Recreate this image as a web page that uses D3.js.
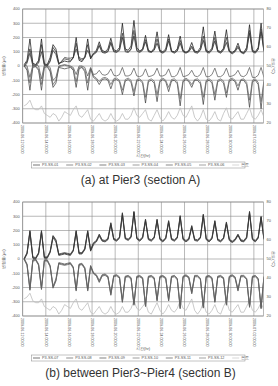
<!DOCTYPE html>
<meta charset="utf-8">
<style>
body { margin: 0; background: #fff; }
text { font-family: "Liberation Sans", Arial, sans-serif; }
</style>
<body>
<script src="https://d3js.org/d3.v7.min.js"></script>
<script>
var width = 278, height = 386;

// sample times in hours (every 6 h, starting 03:00 of the first day)
var hours = d3.range(84).map(function(i) { return 3 + 6 * i; });
var gridHours = [0, 48, 96, 144, 192, 240, 288, 336, 384, 432, 480];
var dateLabels = ["2009-06-12 00:00", "2009-06-14 00:00", "2009-06-16 00:00", "2009-06-18 00:00",
                  "2009-06-20 00:00", "2009-06-22 00:00", "2009-06-24 00:00", "2009-06-26 00:00",
                  "2009-06-28 00:00", "2009-06-30 00:00", "2009-07-02 00:00"];
var strainTicks = [-400, -300, -200, -100, 0, 100, 200, 300, 400];
var tempTicks = [20, 30, 40, 50, 60, 70, 80];

var tempC = [29,30,32,28, 27,27,29,25, 24,23,25,24, 21,23,26,25, 24,27,29,24, 23,25,27,22, 21,23,25,22,
  21,22,25,22, 21,22,25,22, 22,24,28,24, 23,25,27,22, 21,24,27,23, 21,23,26,23, 22,24,28,24,
  23,26,29,23, 21,23,27,22, 21,23,26,22, 21,25,28,23, 22,24,26,22, 22,25,28,23, 22,24,27,23];

// section A
var ss01 = [10,40,190,20, 10,40,190,15, 10,60,150,120, 20,25,35,30, 30,60,200,40, 30,60,190,50,
  90,110,170,110, 100,120,195,115, 105,130,300,120, 110,140,320,130, 105,120,215,110, 100,125,240,110,
  100,120,220,105, 100,120,210,110, 95,110,165,105, 100,130,275,110, 100,125,245,110, 100,125,255,105,
  95,110,160,100, 95,130,290,110, 100,130,300,110];
var ss02 = [0,-30,-170,-10, -5,-30,-170,-10, -5,-40,-150,-120, -10,-15,-20,-15, -10,-30,-150,-20, -10,-40,-170,-20,
  -80,-95,-130,-95, -90,-100,-160,-100, -95,-110,-200,-105, -95,-115,-210,-105, -100,-120,-260,-110, -100,-120,-250,-110,
  -95,-110,-180,-105, -100,-125,-280,-110, -95,-110,-150,-100, -100,-125,-270,-110, -100,-120,-240,-110, -100,-120,-220,-105,
  -95,-110,-170,-100, -100,-130,-290,-110, -100,-130,-300,-110];
var ss03 = [0,30,120,10, 5,30,150,10, 5,40,130,100, 15,30,50,45, 40,55,160,50, 40,60,150,55,
  80,95,140,95, 90,100,160,100, 95,110,200,100, 95,115,210,105, 95,110,170,100, 95,110,160,100,
  90,105,175,100, 90,105,160,100, 90,100,130,95, 90,110,180,100, 90,110,175,100, 90,110,165,100,
  85,100,130,95, 85,110,230,100, 90,115,240,100];
var ss04 = [10,0,-80,5, 10,0,-90,5, 5,-10,-100,-80, 0,5,10,5, 0,-10,-60,0, 0,-10,-70,-10,
  -60,-55,-30,-60, -65,-55,-20,-65, -70,-60,-10,-70, -70,-60,-15,-70, -75,-65,-20,-75, -70,-60,-15,-70,
  -70,-60,-20,-75, -75,-60,-10,-75, -70,-60,-30,-70, -75,-60,-10,-75, -75,-60,-15,-75, -75,-60,-15,-75,
  -70,-60,-30,-70, -75,-60,-10,-80, -80,-65,-10,-80];
var ss05 = [-5,20,90,0, 0,20,100,5, 0,30,110,80, 10,35,60,55, 55,60,120,60, 50,60,110,60,
  85,100,150,100, 95,105,170,105, 100,115,230,110, 100,120,250,115, 100,115,185,105, 100,115,190,105,
  95,110,190,105, 95,110,180,105, 95,105,140,100, 95,115,210,105, 95,115,200,105, 95,115,200,105,
  90,105,140,100, 90,115,250,105, 95,120,260,105];
var ss06 = [5,-20,-120,0, 0,-20,-130,0, 0,-30,-130,-100, -5,0,5,0, -5,-20,-110,-10, -5,-25,-120,-15,
  -70,-85,-110,-85, -80,-90,-130,-90, -85,-100,-170,-95, -85,-100,-180,-95, -90,-110,-220,-100, -90,-105,-200,-100,
  -85,-100,-150,-95, -90,-110,-230,-100, -85,-100,-130,-95, -90,-110,-220,-100, -90,-105,-200,-100, -90,-105,-190,-95,
  -85,-100,-140,-95, -90,-115,-240,-100, -90,-115,-250,-100];

// section B
var ss07 = [0,40,195,10, 5,40,195,10, 10,50,160,130, 30,35,40,35, 30,60,195,40, 40,70,195,60,
  110,125,170,130, 125,140,250,140, 130,150,320,145, 135,155,330,145, 130,150,275,140, 130,150,275,140,
  125,145,265,140, 130,150,300,140, 125,140,230,135, 130,150,310,140, 125,145,265,135, 125,145,255,135,
  120,135,170,130, 125,150,330,140, 125,150,295,140];
var ss08 = [0,-40,-215,-10, -5,-40,-210,-10, -10,-50,-200,-150, -30,-35,-40,-35, -30,-60,-220,-40, -35,-65,-220,-50,
  -100,-115,-160,-115, -110,-125,-250,-120, -115,-130,-300,-125, -120,-135,-320,-125, -120,-135,-330,-125, -120,-135,-290,-125,
  -120,-135,-290,-125, -120,-140,-345,-125, -115,-130,-240,-120, -120,-140,-340,-125, -120,-135,-300,-125, -120,-135,-320,-125,
  -115,-130,-220,-120, -120,-140,-335,-125, -120,-140,-345,-125];
var ss09 = [-5,35,185,5, 0,35,185,5, 5,45,150,120, 25,30,35,30, 25,55,185,35, 35,65,185,55,
  100,120,160,125, 120,135,240,135, 125,145,305,140, 130,150,320,140, 125,145,265,135, 125,145,265,135,
  120,140,255,135, 125,145,290,135, 120,135,220,130, 125,145,300,135, 120,140,255,130, 120,140,245,130,
  115,130,165,125, 120,145,320,135, 120,145,285,135];
var ss10 = [5,-35,-205,-5, 0,-35,-200,-5, -5,-45,-190,-140, -25,-30,-35,-30, -25,-55,-210,-35, -30,-60,-210,-45,
  -95,-110,-150,-110, -105,-120,-240,-115, -110,-125,-290,-120, -115,-130,-310,-120, -115,-130,-320,-120, -115,-130,-280,-120,
  -115,-130,-280,-120, -115,-135,-335,-120, -110,-125,-230,-115, -115,-135,-330,-120, -115,-130,-290,-120, -115,-130,-310,-120,
  -110,-125,-210,-115, -115,-135,-325,-120, -115,-135,-335,-120];
var ss11 = [5,45,200,15, 10,45,200,15, 15,55,165,135, 35,40,45,40, 35,65,200,45, 45,75,200,65,
  115,130,175,135, 130,145,255,145, 135,155,325,150, 140,160,335,150, 135,155,280,145, 135,155,280,145,
  130,150,270,145, 135,155,305,145, 130,145,235,140, 135,155,315,145, 130,150,270,140, 130,150,260,140,
  125,140,175,135, 130,155,335,145, 130,155,300,145];
var ss12 = [-5,-45,-220,-15, -10,-45,-215,-15, -15,-55,-205,-155, -35,-40,-45,-40, -35,-65,-225,-45, -40,-70,-225,-55,
  -105,-120,-165,-120, -115,-130,-255,-125, -120,-135,-305,-130, -125,-140,-325,-130, -125,-140,-335,-130, -125,-140,-295,-130,
  -125,-140,-295,-130, -125,-145,-350,-130, -120,-135,-245,-125, -125,-145,-345,-130, -125,-140,-305,-130, -125,-140,-325,-130,
  -120,-135,-225,-125, -125,-145,-340,-130, -125,-145,-350,-130];

var namesA = ["P3-SS-01", "P3-SS-02", "P3-SS-03", "P3-SS-04", "P3-SS-05", "P3-SS-06"];
var namesB = ["P3-SS-07", "P3-SS-08", "P3-SS-09", "P3-SS-10", "P3-SS-11", "P3-SS-12"];
var tempName = "온도";

var lineColors = ["#1a1a1a", "#444", "#2e2e2e", "#5a5a5a", "#3a3a3a", "#666"];

var svg = d3.select("body").append("svg")
    .attr("width", width)
    .attr("height", height);

function drawChart(top, id, series, names, caption) {
  var left = 22.7, right = 263.5, bottom = top + 114;
  var x = d3.scaleLinear().domain([0, 500]).range([left, right]);
  var yL = d3.scaleLinear().domain([-400, 400]).range([bottom, top]);
  var yR = d3.scaleLinear().domain([20, 80]).range([bottom, top]);
  var g = svg.append("g");

  g.append("clipPath").attr("id", id)
    .append("rect").attr("x", left).attr("y", top).attr("width", right - left).attr("height", bottom - top);

  // grid
  g.selectAll(".hg").data(strainTicks).enter().append("line")
      .attr("x1", left).attr("x2", right)
      .attr("y1", function(d) { return yL(d); }).attr("y2", function(d) { return yL(d); })
      .attr("stroke", "#8a8a8a").attr("stroke-width", 0.6);
  g.selectAll(".vg").data(gridHours).enter().append("line")
      .attr("x1", function(d) { return x(d); }).attr("x2", function(d) { return x(d); })
      .attr("y1", top).attr("y2", bottom)
      .attr("stroke", "#8a8a8a").attr("stroke-width", 0.6);
  g.append("rect").attr("x", left).attr("y", top).attr("width", right - left).attr("height", bottom - top)
      .attr("fill", "none").attr("stroke", "#8a8a8a").attr("stroke-width", 0.6);

  var plot = g.append("g").attr("clip-path", "url(#" + id + ")");

  plot.append("path")
      .datum(tempC)
      .attr("fill", "none").attr("stroke", "#bdbdbd").attr("stroke-width", 0.8)
      .attr("d", d3.line().x(function(d, i) { return x(hours[i]); }).y(function(d) { return yR(d); }));

  series.forEach(function(s, k) {
    plot.append("path")
        .datum(s)
        .attr("fill", "none").attr("stroke", lineColors[k]).attr("stroke-width", 0.75)
        .attr("d", d3.line().x(function(d, i) { return x(hours[i]); }).y(function(d) { return yL(d); }));
  });

  // left ticks
  g.selectAll(".lt").data(strainTicks).enter().append("text")
      .attr("x", left - 3).attr("y", function(d) { return yL(d) + 1.4; })
      .attr("text-anchor", "end").attr("font-size", 4).attr("fill", "#555")
      .text(function(d) { return d; });
  // right ticks
  g.selectAll(".rt").data(tempTicks).enter().append("text")
      .attr("x", right + 3).attr("y", function(d) { return yR(d) + 1.4; })
      .attr("font-size", 4).attr("fill", "#555")
      .text(function(d) { return d; });
  // date labels
  g.selectAll(".dl").data(gridHours).enter().append("text")
      .attr("transform", function(d) { return "translate(" + (x(d) - 1.3) + "," + (bottom + 2) + ")rotate(90)"; })
      .attr("font-size", 3.6).attr("fill", "#444")
      .text(function(d, i) { return dateLabels[i]; });

  g.append("text")
      .attr("transform", "translate(5," + (top + 57) + ")rotate(-90)")
      .attr("text-anchor", "middle").attr("font-size", 4.2).attr("fill", "#555")
      .text("변형률(με)");
  g.append("text")
      .attr("transform", "translate(272," + (top + 57) + ")rotate(90)")
      .attr("text-anchor", "middle").attr("font-size", 4.2).attr("fill", "#555")
      .text("온도(°C)");
  g.append("text")
      .attr("x", 143).attr("y", bottom + 34)
      .attr("text-anchor", "middle").attr("font-size", 4.2).attr("fill", "#555")
      .text("시간(hr)");

  // legend
  var ly = bottom + 39;
  g.append("rect").attr("x", 31.7).attr("y", ly).attr("width", 213.3).attr("height", 6)
      .attr("fill", "#fff").attr("stroke", "#888").attr("stroke-width", 0.5);
  var items = names.map(function(n, i) { return { name: n, color: lineColors[i] }; });
  items.push({ name: tempName, color: "#bdbdbd" });
  var lg = g.selectAll(".lg").data(items).enter().append("g")
      .attr("transform", function(d, i) { return "translate(" + (33 + i * 33.2) + "," + (ly + 3) + ")"; });
  lg.append("line").attr("x1", 0).attr("x2", 7).attr("stroke", function(d) { return d.color; }).attr("stroke-width", 0.6);
  lg.append("text").attr("x", 9).attr("y", 1.3).attr("font-size", 3.8).attr("fill", "#555")
      .text(function(d) { return d.name; });

  g.append("text")
      .attr("x", 140.5).attr("y", bottom + 61)
      .attr("text-anchor", "middle").attr("font-size", 12).attr("fill", "#333")
      .text(caption);
}

drawChart(9, "clipA", [ss01, ss02, ss03, ss04, ss05, ss06], namesA, "(a) at Pier3 (section A)");
drawChart(202, "clipB", [ss07, ss08, ss09, ss10, ss11, ss12], namesB, "(b) between Pier3~Pier4 (section B)");
</script>
</body>
